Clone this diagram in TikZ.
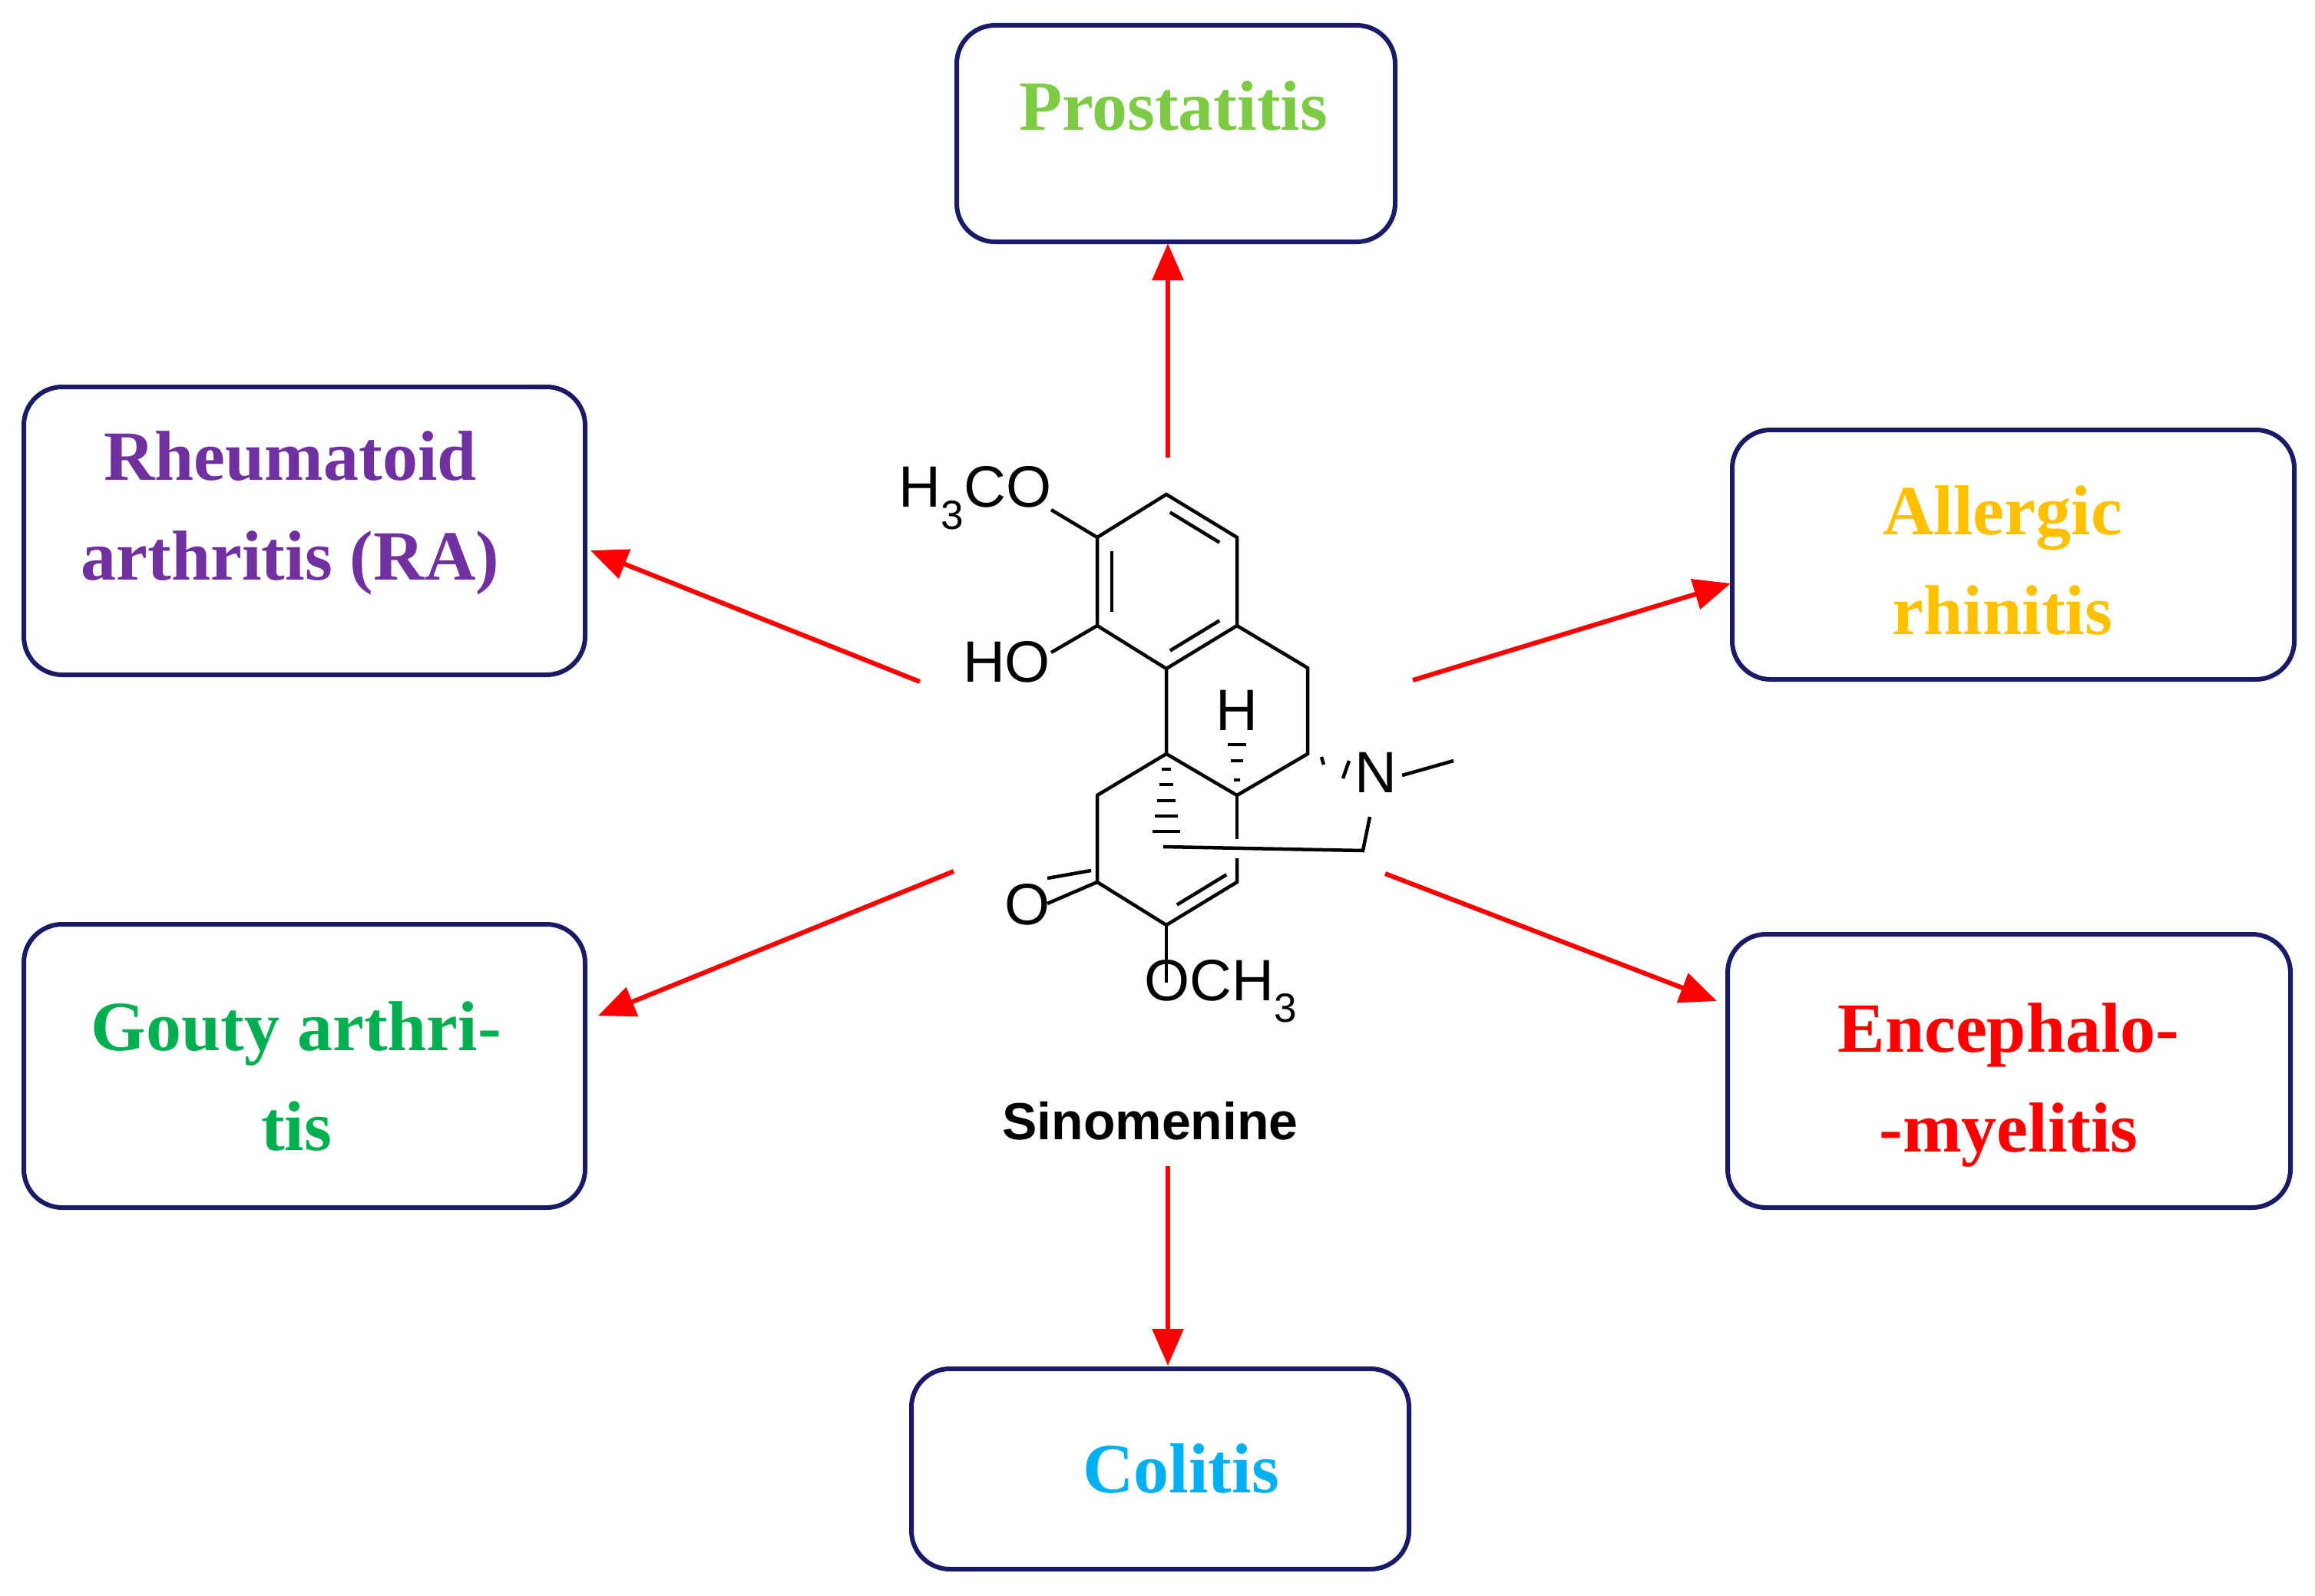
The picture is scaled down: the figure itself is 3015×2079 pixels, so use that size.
\documentclass[tikz,border=0pt]{standalone}
\usepackage{fontspec}
\setmainfont{Liberation Serif}
\newfontfamily\arialf{Liberation Sans}
\usetikzlibrary{arrows.meta,calc}
\definecolor{navy}{HTML}{1A1A66}
\definecolor{cpro}{HTML}{7DCB45}
\definecolor{cra}{HTML}{7030A0}
\definecolor{cal}{HTML}{FFC000}
\definecolor{cgo}{HTML}{00B050}
\definecolor{cen}{HTML}{FF0000}
\definecolor{cco}{HTML}{00B0F0}
\begin{document}
\begin{tikzpicture}[x=1pt,y=-1pt,
  box/.style={draw=navy,line width=6pt,rounded corners=50pt,inner sep=0pt},
  lab/.style={font=\fontsize{92}{130}\selectfont\bfseries,align=center},
  arr/.style={draw=red,line width=6pt,-{Triangle[length=48pt,width=40pt]}},
  bond/.style={line width=4.5pt},
  atom/.style={font=\arialf\fontsize{76}{76}\selectfont,inner sep=0pt}]
\useasboundingbox (0,0) rectangle (3015,2079);
% boxes
\node[box,minimum width=571pt,minimum height=282pt] (bpro) at (1531.5,174) {};
\node[box,minimum width=731pt,minimum height=375pt] (bra) at (396.5,691.5) {};
\node[box,minimum width=732pt,minimum height=325pt] (bal) at (2622,722.5) {};
\node[box,minimum width=731pt,minimum height=369pt] (bgo) at (396.5,1388.5) {};
\node[box,minimum width=733pt,minimum height=356pt] (ben) at (2616.5,1395) {};
\node[box,minimum width=648pt,minimum height=261pt] (bco) at (1511,1913.5) {};
% labels
\node[lab,text=cpro] (tpro) at (1528,138) {Prostatitis};
\node[lab,text=cra] (tra) at (378,668) {Rheumatoid\\arthritis (RA)};
\node[lab,text=cal] (tal) at (2608,730) {Allergic\\rhinitis};
\node[lab,text=cgo] (tgo) at (386,1402) {Gouty arthri-\\tis};
\node[lab,text=cen] (ten) at (2616,1413) {Encephalo-\\-myelitis};
\node[lab,text=cco] (tco) at (1538,1913) {Colitis};
\node[font=\arialf\fontsize{68}{68}\selectfont\bfseries] (sino) at (1498,1460) {Sinomenine};
% arrow coordinates
\coordinate (s1) at (1521,596); \coordinate (e1) at (1521,317);
\coordinate (s2) at (1198,888); \coordinate (e2) at (769,717);
\coordinate (s3) at (1840,886); \coordinate (e3) at (2254,760);
\coordinate (s4) at (1242,1135); \coordinate (e4) at (779,1323);
\coordinate (s5) at (1804,1138); \coordinate (e5) at (2236,1304);
\coordinate (s6) at (1521,1519); \coordinate (e6) at (1521,1779);
\foreach \i in {1,...,6} \draw[arr] (s\i) -- (e\i);
% molecule
\coordinate (a1) at (1519,644); \coordinate (a2) at (1611,700);
\coordinate (a3) at (1611,815); \coordinate (a4) at (1519,871);
\coordinate (a5) at (1429,815); \coordinate (a6) at (1429,700);
\coordinate (c9) at (1703,870); \coordinate (c10) at (1703,982);
\coordinate (c14) at (1611,1036); \coordinate (c13) at (1519,982);
\coordinate (c12) at (1429,1036); \coordinate (c11) at (1429,1149);
\coordinate (cb) at (1519,1205); \coordinate (cr) at (1611,1149);
\node[atom] (ome1) at (1270,649) {H\textsubscript{3}CO};
\node[atom] (oh) at (1311,862) {HO};
\node[atom] (hh) at (1611,925) {H};
\node[atom] (nn) at (1792,1006) {N};
\node[atom] (oo) at (1338,1178) {O};
\node[atom,anchor=north west] (ome2) at (1490,1250) {OCH\textsubscript{3}};
\begin{scope}[bond]
\draw (a1)--(a2)--(a3)--(a4)--(a5)--(a6)--cycle;
\draw ($(a1)!0.15!(a2)+(-9,15)$) -- ($(a1)!0.85!(a2)+(-9,15)$);
\draw (1448,718) -- (1448,797);
\draw ($(a3)!0.15!(a4)+(-9,-15)$) -- ($(a3)!0.85!(a4)+(-9,-15)$);
\draw (a6) -- (1369,664);
\draw (a5) -- (1369,850);
\draw (a3)--(c9)--(c10)--(c14)--(c13)--(a4);
\draw (c13)--(c12)--(c11)--(cb)--(cr)--(1611,1118);
\draw (c14)--(1611,1093);
\draw ($(cb)!0.15!(cr)+(0,-18)$) -- ($(cb)!0.85!(cr)+(0,-18)$);
\draw (c11) -- (1364,1177);
\draw ($(c11)+(-8,-15)$) -- (1364,1144);
\draw (1515,1103) -- (1775,1108) -- (1784,1064);
\draw (1826,1010) -- (1893,991);
\draw (cb) -- (1519,1280);
\end{scope}
\begin{scope}[line width=4.5pt]
\foreach \y/\w in {1002/6,1022/9,1043/12,1063/15,1083/18} \draw (1519-\w,\y) -- (1519+\w,\y);
\foreach \y/\w in {970/12,991/8,1016/4} \draw (1611-\w,\y) -- (1611+\w,\y);
\draw (1721,986) -- (1724,996);
\draw (1757,991) -- (1749,1014);
\end{scope}
\end{tikzpicture}
\end{document}
